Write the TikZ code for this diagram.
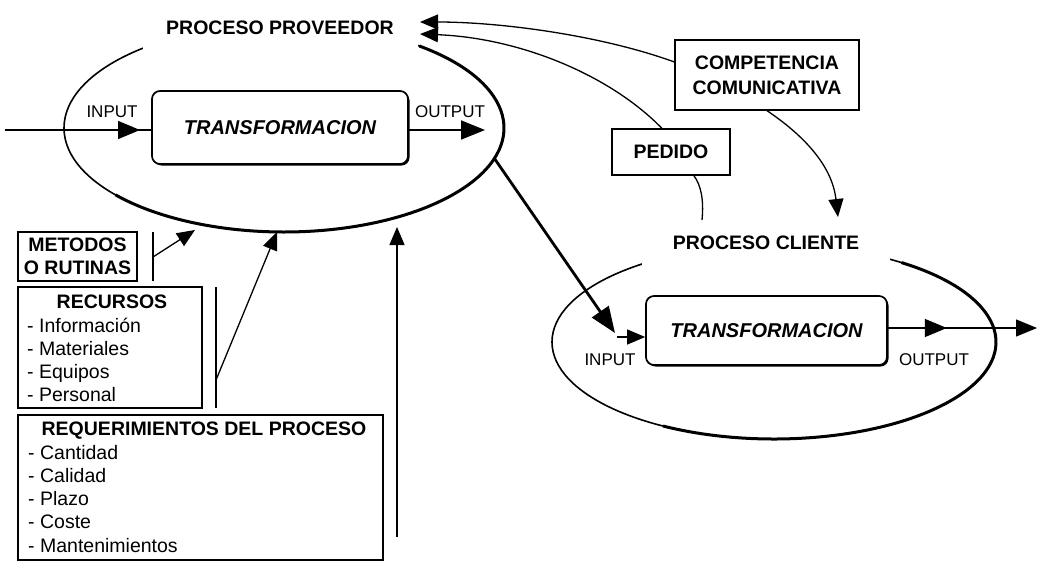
\documentclass[tikz,border=0pt]{standalone}
\usepackage{fontspec}
\setmainfont{Liberation Sans}
\usetikzlibrary{arrows.meta,shadows,decorations.markings}
\tikzset{
  lbl/.style={font=\fontsize{19.5}{23.3}\selectfont\bfseries, text=black},
  io/.style={font=\fontsize{17}{20}\selectfont},
  itm/.style={font=\fontsize{19.5}{23.3}\selectfont, anchor=base west, inner sep=0pt},
  tbox/.style={draw, line width=1.7pt, rounded corners=8pt, fill=white,
    drop shadow={shadow xshift=1.5pt, shadow yshift=-1.5pt, fill=black, opacity=1},
    font=\fontsize{20}{24}\selectfont\bfseries\itshape},
  rbox/.style={draw, line width=1.3pt},
  conn/.style={line width=1.3pt},
  tip/.style={-{Triangle[length=18pt,width=15pt]}},
  bigtip/.style={-{Triangle[length=26pt,width=20pt]}},
  midtip/.style={postaction={decorate}, decoration={markings, mark=at position #1 with {\arrow{Triangle[length=22pt,width=18pt]}}}},
}
\begin{document}
\begin{tikzpicture}[x=1pt,y=-1pt]
\useasboundingbox[fill=white] (0,0) rectangle (1039,562);

% ---------- proveedor ----------
\coordinate (pp) at (284,128);
\draw[line width=1.6pt] (pp) ellipse [x radius=220, y radius=104];
\draw[line width=3pt] (pp) ++(-52:220 and 104) arc[start angle=-52, end angle=140, x radius=220, y radius=104];
\node[lbl, fill=white, minimum width=275, minimum height=48] (ppl) at (280,28) {PROCESO PROVEEDOR};
\node[tbox, minimum width=256, minimum height=73] (t1) at (280,127.5) {TRANSFORMACION};

\coordinate (in1) at (5,130);
\draw[line width=1.6pt, midtip=135pt] (in1) -- (t1.west |- in1);
\coordinate (o1) at (485,130);
\draw[line width=1.8pt, -{Triangle[length=24pt,width=19pt]}] (t1.east |- o1) -- (o1);
\node[io] (inl1) at (112,112) {INPUT};
\node[io] (outl1) at (450,112) {OUTPUT};

% ---------- cliente ----------
\coordinate (pc) at (774,342);
\draw[line width=1.6pt] (pc) ellipse [x radius=222, y radius=97];
\draw[line width=3pt] (pc) ++(-55:222 and 97) arc[start angle=-55, end angle=120, x radius=222, y radius=97];
\node[lbl, fill=white, minimum width=248, minimum height=44] (pcl) at (766,243) {PROCESO CLIENTE};
\node[tbox, minimum width=241, minimum height=69] (t2) at (766.5,330.5) {TRANSFORMACION};

\coordinate (in2) at (617,337);
\draw[conn, -{Triangle[length=18pt,width=15pt]}] (in2) -- (t2.west |- in2);
\coordinate (o2) at (1037,328);
\draw[conn, -{Triangle[length=21pt,width=17pt]}, midtip=59pt] (t2.east |- o2) -- (o2);
\node[io] (inl2) at (610,360) {INPUT};
\node[io] (outl2) at (934,360) {OUTPUT};

% ---------- thick output -> input ----------
\path (pp) ++(17:220 and 104) coordinate (tstart);
\coordinate (tend) at (615,333);
\draw[line width=2.8pt, bigtip] (tstart) -- (tend);

% ---------- pedido / competencia ----------
\node[rbox, lbl, minimum width=118, minimum height=46] (ped) at (671,152) {PEDIDO};
\node[rbox, lbl, minimum width=184, minimum height=70, align=center] (comp) at (767,75) {COMPETENCIA\\[2pt]COMUNICATIVA};
\coordinate (pp1) at (420,22);
\coordinate (pp2) at (420,34);
\coordinate (pcTop) at (702,220);
\coordinate (pcArr) at (838,217);
\draw[conn] (pcTop) .. controls (704,200) and (701,185) .. (ped.-46);
\draw[conn, tip] (ped.111) .. controls (610,75) and (520,38) .. (pp2);
\draw[conn, tip] (comp.172) .. controls (600,35) and (500,22) .. (pp1);
\draw[conn, tip] (comp.south) .. controls (803,135) and (832,165) .. (pcArr);

% ---------- left side ----------
\node[rbox, lbl, minimum width=119, minimum height=49, align=center, inner sep=0pt] (met) at (77.5,256.5) {METODOS\\O RUTINAS};
\coordinate (metb1) at (153,232);
\coordinate (metb2) at (153,281);
\coordinate (metm) at (153,257);
\coordinate (meta) at (195,230);
\draw[conn] (metb1) -- (metb2);
\draw[conn, tip] (metm) -- (meta);

\node[rbox, minimum width=184, minimum height=121] (rec) at (110,347.5) {};
\node[lbl, anchor=base, inner sep=0pt] (rect) at (112,308) {RECURSOS};
\foreach \t [count=\i] in {- Información, - Materiales, - Equipos, - Personal}
  \node[itm] (rec\i) at (27,{332+23.3*(\i-1)}) {\t};
\coordinate (recb1) at (216,287);
\coordinate (recb2) at (216,408);
\coordinate (recm) at (216,380);
\coordinate (reca) at (277,232);
\draw[conn] (recb1) -- (recb2);
\draw[conn, tip] (recm) -- (reca);

\node[rbox, minimum width=365, minimum height=145] (req) at (200.5,487.5) {};
\node[lbl, anchor=base, inner sep=0pt] (reqt) at (204,435) {REQUERIMIENTOS DEL PROCESO};
\foreach \t [count=\i] in {- Cantidad, - Calidad, - Plazo, - Coste, - Mantenimientos}
  \node[itm] (req\i) at (28,{459+23.25*(\i-1)}) {\t};
\coordinate (reqs) at (397,537);
\coordinate (reqa) at (397,227);
\draw[conn, tip] (reqs) -- (reqa);
\end{tikzpicture}
\end{document}
